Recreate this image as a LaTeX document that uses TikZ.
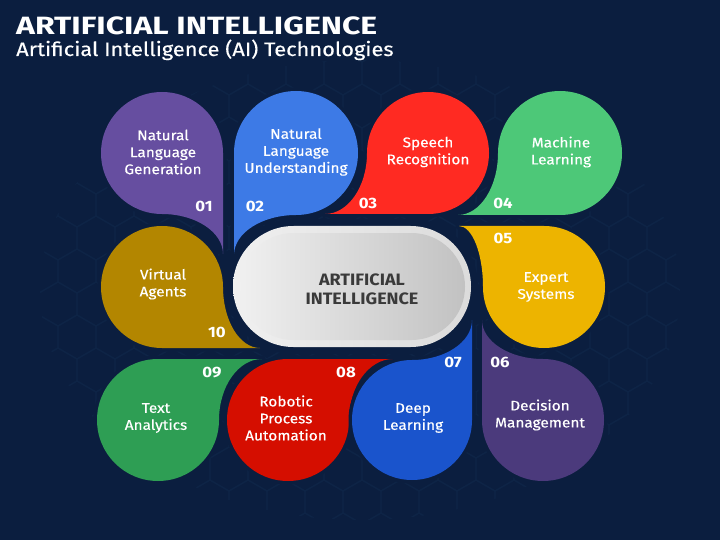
\documentclass[tikz,border=0pt]{standalone}
\usepackage{fontspec}
\setmainfont{Fira Sans}
\newfontfamily\lblfont{Fira Sans}[FakeStretch=1.1,FakeBold=0.4]
\newfontfamily\titlefont{Fira Sans}[FakeStretch=1.28]
\newfontfamily\subfont{Fira Sans}[FakeStretch=1.12,FakeBold=0.3]
\newfontfamily\midfont{Fira Sans}[FakeStretch=1.09]
\newfontfamily\numfont{Fira Sans}[FakeStretch=1.12]
\usetikzlibrary{calc}
\definecolor{bg}{HTML}{0B1E3F}
\definecolor{hexline}{HTML}{0E2446}
\definecolor{c01}{HTML}{664EA0}
\definecolor{c02}{HTML}{3D7AE6}
\definecolor{c03}{HTML}{FF2A22}
\definecolor{c04}{HTML}{4DC878}
\definecolor{c05}{HTML}{EDB400}
\definecolor{c06}{HTML}{4B3A7C}
\definecolor{c07}{HTML}{1A54CC}
\definecolor{c08}{HTML}{D50E00}
\definecolor{c09}{HTML}{2E9E54}
\definecolor{c10}{HTML}{B38600}
\definecolor{ctext}{HTML}{3A3A3A}
% horizontal tail: cx cy r L sx sy
\newcommand\tailH[6]{(#1,#2) -- ({#1+(#5)*#3},#2) .. controls ({#1+(#5)*#3},{#2+(#6)*0.55*#3}) and ({#1+(#5)*(#3+0.45*#4)},{#2+(#6)*#3}) .. ({#1+(#5)*(#3+#4)},{#2+(#6)*#3}) -- (#1,{#2+(#6)*#3}) -- cycle}
% vertical tail: cx cy r L sx sy
\newcommand\tailV[6]{(#1,#2) -- (#1,{#2+(#6)*#3}) .. controls ({#1+(#5)*0.55*#3},{#2+(#6)*#3}) and ({#1+(#5)*#3},{#2+(#6)*(#3+0.45*#4)}) .. ({#1+(#5)*#3},{#2+(#6)*(#3+#4)}) -- ({#1+(#5)*#3},#2) -- cycle}
\newcommand\dropH[7]{\path[outl] (#1,#2) circle[radius=#3pt] \tailH{#1}{#2}{#3}{#4}{#5}{#6};
  \fill[#7] (#1,#2) circle[radius=#3pt];
  \fill[#7] \tailH{#1}{#2}{#3}{#4}{#5}{#6};}
\newcommand\dropV[7]{\path[outl] (#1,#2) circle[radius=#3pt] \tailV{#1}{#2}{#3}{#4}{#5}{#6};
  \fill[#7] (#1,#2) circle[radius=#3pt];
  \fill[#7] \tailV{#1}{#2}{#3}{#4}{#5}{#6};}
\tikzset{
  outl/.style={draw=bg,line width=7pt,line join=round},
  lbl/.style={text=white,align=center,font=\lblfont\fontsize{14}{17}\selectfont,inner sep=0pt},
  num/.style={text=white,font=\numfont\bfseries\fontsize{15}{17}\selectfont,inner sep=0pt},
}
\begin{document}
\begin{tikzpicture}[x=1pt,y=-1pt]
\useasboundingbox (0,0) rectangle (720,540);
\fill[bg] (0,0) rectangle (720,540);
% faint hexagon pattern
\begin{scope}
\clip (360,290) ellipse[x radius=320pt,y radius=230pt];
\foreach \j in {0,...,16}{
  \foreach \i in {0,...,19}{
    \pgfmathsetmacro\hx{20+\i*38+mod(\j,2)*19}
    \pgfmathsetmacro\hy{40+\j*33}
    \draw[hexline,line width=1.3pt] (\hx,\hy) +(90:22) -- +(150:22) -- +(210:22) -- +(270:22) -- +(330:22) -- +(30:22) -- cycle;
  }
}
\end{scope}
% drops
\dropV{162}{153}{61}{40}{1}{1}{c01}
\dropV{296}{153}{62}{40}{-1}{1}{c02}
\dropH{428}{153}{61}{42}{-1}{1}{c03}
\dropH{560}{153}{62}{40}{-1}{1}{c04}
\dropV{543}{420}{61}{39}{-1}{-1}{c06}
\dropH{544}{287}{61}{24}{-1}{-1}{c05}
\dropH{158}{420}{61}{43}{1}{-1}{c09}
\dropH{288}{420}{61}{44}{1}{-1}{c08}
\dropV{412}{420}{60}{40}{1}{-1}{c07}
\dropH{162}{287}{61}{37}{1}{1}{c10}
% central pill
\draw[bg,line width=14pt,rounded corners=60.5pt] (233,226) rectangle (471,347);
\shade[left color=gray!12,right color=gray!28,rounded corners=60.5pt] (233,226) rectangle (471,347);
\shade[left color=white!94!black,right color=white!76!black,rounded corners=53.5pt] (240,233) rectangle (465,340);
\node[text=ctext,align=center,font=\midfont\bfseries\fontsize{16.5}{19}\selectfont,inner sep=0pt] (center) at (362,289) {ARTIFICIAL\\INTELLIGENCE};
% title
\node[anchor=base west,text=white,font=\titlefont\bfseries\fontsize{25}{28}\selectfont,inner sep=0pt] (title) at (16,35) {ARTIFICIAL INTELLIGENCE};
\node[anchor=base west,text=white,font=\subfont\fontsize{19.5}{22}\selectfont,inner sep=0pt] (subtitle) at (16,56) {Artificial Intelligence (AI) Technologies};
% labels
\node[lbl] (t01) at (163,152) {Natural\\Language\\Generation};
\node[lbl] (t02) at (296,152) {Natural\\Language\\Understanding};
\node[lbl] (t03) at (428,152) {Speech\\Recognition};
\node[lbl] (t04) at (561,152) {Machine\\Learning};
\node[lbl] (t05) at (546,287) {Expert\\Systems};
\node[lbl] (t06) at (540,415) {Decision\\Management};
\node[lbl] (t07) at (413,418) {Deep\\Learning};
\node[lbl] (t08) at (286,418) {Robotic\\Process\\Automation};
\node[lbl] (t09) at (156,418) {Text\\Analytics};
\node[lbl] (t10) at (163,284) {Virtual\\Agents};
% numbers
\node[num] (n01) at (204,206) {01};
\node[num] (n02) at (255,206) {02};
\node[num] (n03) at (368,203) {03};
\node[num] (n04) at (503,203) {04};
\node[num] (n05) at (503,238) {05};
\node[num] (n06) at (500,362) {06};
\node[num] (n07) at (453,362) {07};
\node[num] (n08) at (346,372) {08};
\node[num] (n09) at (212,373) {09};
\node[num] (n10) at (217,332) {10};
\end{tikzpicture}
\end{document}
